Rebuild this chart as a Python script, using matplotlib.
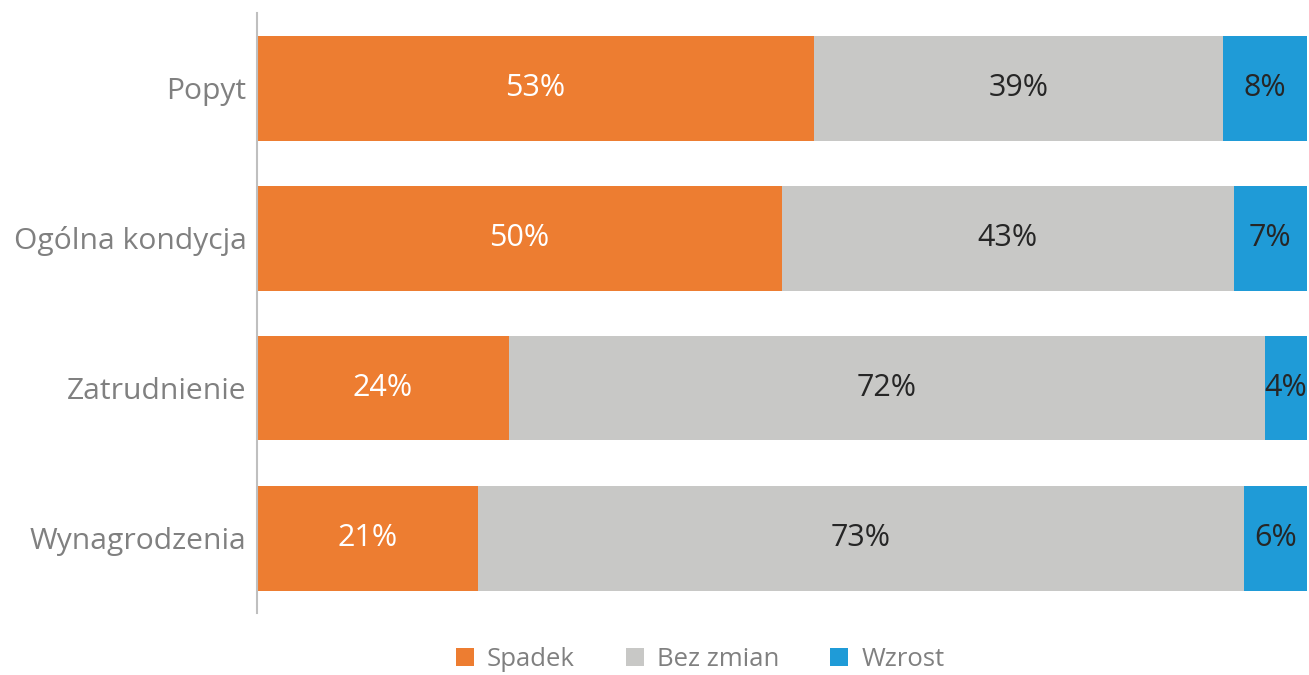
import numpy as np
import matplotlib.pyplot as plt

# data
categories = ["Popyt", "Ogólna kondycja", "Zatrudnienie", "Wynagrodzenia"]
spadek = [53, 50, 24, 21]
bez_zmian = [39, 43, 72, 73]
wzrost = [8, 7, 4, 6]
series_names = ["Spadek", "Bez zmian", "Wzrost"]

colors = ["#ED7D31", "#C8C8C6", "#1F9BD7"]
label_colors = ["white", "#262626", "#262626"]

plt.rcParams['font.family'] = ['Open Sans', 'DejaVu Sans']

fig = plt.figure(figsize=(13.09, 6.75), dpi=100)
ax = fig.add_axes([257/1309, 62/675, 1050/1309, 600/675])

y = np.arange(len(categories))
left = np.zeros(len(categories))
for vals, name, col, lc in zip([spadek, bez_zmian, wzrost], series_names, colors, label_colors):
    vals = np.array(vals, dtype=float)
    bars = ax.barh(y, vals, left=left, height=0.7, color=col, label=name)
    for yi, l, v in zip(y, left, vals):
        ax.text(l + v/2, yi, f"{int(v)}%", ha='center', va='center',
                fontsize=22, color=lc)
    left += vals

ax.set_xlim(0, 100)
ax.set_ylim(len(categories) - 0.5, -0.5)
ax.set_yticks(y)
ax.set_yticklabels(categories, fontsize=21.6, color="#808080")
ax.tick_params(axis='y', length=0, pad=7.5)
ax.set_xticks([])
for s in ['top', 'right', 'bottom']:
    ax.spines[s].set_visible(False)
ax.spines['left'].set_color("#BFBFBF")
ax.spines['left'].set_linewidth(1.5)

leg = fig.legend(loc='center', bbox_to_anchor=(700/1309, 1 - 659/675), ncol=3,
                 frameon=False, fontsize=18.5, handlelength=0.7, handleheight=0.7,
                 columnspacing=2.0, handletextpad=0.5)
for t in leg.get_texts():
    t.set_color("#808080")

fig.savefig("out.png", dpi=100)
